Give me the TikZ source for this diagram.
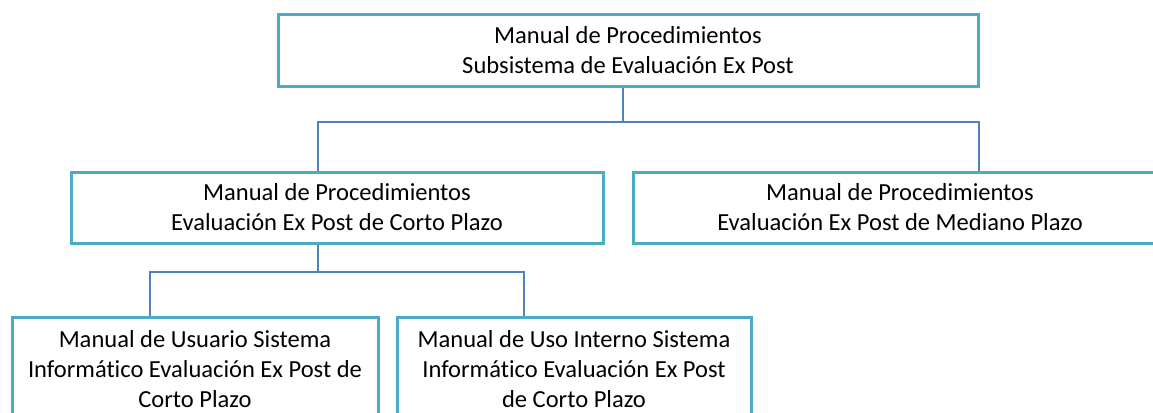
\documentclass[tikz,border=0pt]{standalone}
\usepackage{fontspec}
\setmainfont{Carlito}[Ligatures=NoCommon]
\usetikzlibrary{positioning,calc}
\definecolor{boxblue}{HTML}{4BACC6}
\definecolor{linkblue}{HTML}{4F81BD}

\begin{document}
\begin{tikzpicture}[x=0.75pt, y=-0.75pt,
    manual/.style={draw=boxblue, line width=2.25pt, fill=white, align=center,
        inner sep=0pt, font=\fontsize{18.4}{22.5}\selectfont},
    link/.style={draw=linkblue, line width=1.1pt}]
    % Frame
    \useasboundingbox (0,0) rectangle (1153,412);
    \clip (0,0) rectangle (1153,412);

    % Manuals
    \node[manual, minimum width=525pt, minimum height=54pt] (top) at (628,50)
        {Manual de Procedimientos\\Subsistema de Evaluación Ex Post};
    \node[manual, minimum width=399pt, minimum height=53.25pt] (midL) at (337,207.5)
        {Manual de Procedimientos\\Evaluación Ex Post de Corto Plazo};
    \node[manual, minimum width=400.5pt, minimum height=53.25pt] (midR) at (900,207.5)
        {Manual de Procedimientos\\Evaluación Ex Post de Mediano Plazo};
    \node[manual, minimum width=274.5pt, minimum height=78pt] (botL) at (195,369)
        {Manual de Usuario Sistema\\Informático Evaluación Ex Post de\\Corto Plazo};
    \node[manual, minimum width=265.5pt, minimum height=78pt] (botM) at (574,369)
        {Manual de Uso Interno Sistema\\Informático Evaluación Ex Post\\de Corto Plazo};

    % Branch points
    \coordinate (splitTop) at (623,122);
    \coordinate (splitMid) at (318,272);
    \coordinate (dropR) at (979,0);
    \coordinate (dropA) at (150,0);
    \coordinate (dropB) at (524,0);

    % Connectors
    \draw[link] (top.south -| splitTop) -- (splitTop);
    \draw[link] (midL.north -| splitMid) |- (splitTop -| dropR) -- (midR.north -| dropR);
    \draw[link] (midL.south -| splitMid) -- (splitMid);
    \draw[link] (botL.north -| dropA) |- (splitMid -| dropB) -- (botM.north -| dropB);
\end{tikzpicture}
\end{document}
